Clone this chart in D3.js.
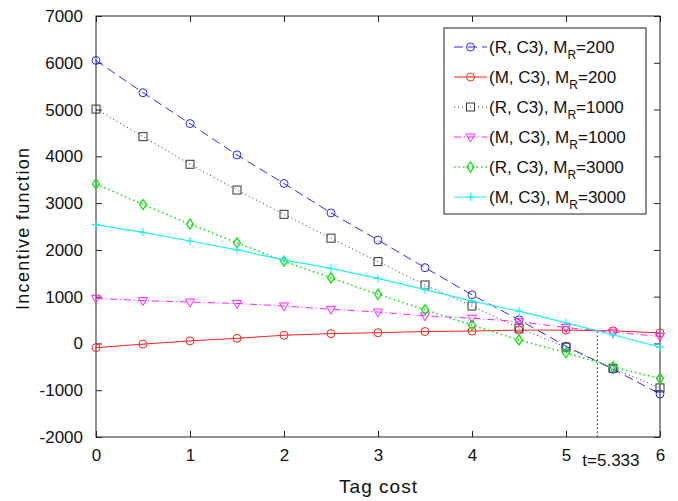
<!DOCTYPE html>
<html>
<head>
<meta charset="utf-8">
<script src="https://cdn.jsdelivr.net/npm/d3@7"></script>
<style>
  html, body { margin: 0; padding: 0; background: #fff; }
  svg { display: block; font-family: "Liberation Sans", Arial, Helvetica, sans-serif; }
</style>
</head>
<body>
<svg id="chart" width="678" height="501"></svg>
<script>
// Tag cost values (x) shared by every curve
const tagCost = [0, 0.5, 1, 1.5, 2, 2.5, 3, 3.5, 4, 4.5, 5, 5.5, 6];

// Incentive function values per scenario
const rC3_200  = [6050, 5360, 4700, 4030, 3420, 2790, 2210, 1620, 1040, 505, -60, -550, -1080];
const mC3_200  = [-90, -15, 55, 110, 175, 210, 230, 255, 265, 285, 285, 270, 225];
const rC3_1000 = [5010, 4420, 3830, 3280, 2760, 2250, 1750, 1250, 800, 330, -80, -530, -950];
const mC3_1000 = [965, 915, 885, 855, 800, 730, 672, 590, 540, 465, 340, 240, 150];
const rC3_3000 = [3410, 2970, 2550, 2150, 1760, 1400, 1050, 720, 390, 75, -200, -500, -750];
const mC3_3000 = [2540, 2375, 2190, 2000, 1785, 1605, 1390, 1150, 905, 690, 440, 185, -80];

const seriesNames = [
  ["(R, C3), M", "R", "=200"],
  ["(M, C3), M", "R", "=200"],
  ["(R, C3), M", "R", "=1000"],
  ["(M, C3), M", "R", "=1000"],
  ["(R, C3), M", "R", "=3000"],
  ["(M, C3), M", "R", "=3000"]
];

const xTicks = [0, 1, 2, 3, 4, 5, 6];
const yTicks = [-2000, -1000, 0, 1000, 2000, 3000, 4000, 5000, 6000, 7000];
const crossT = 5.333;
const crossValue = 275;
const crossLabel = "t=5.333";

const styles = [
  { color: "#2a2aff", dash: "9,5",     marker: "circle",   width: 1 },
  { color: "#ff2020", dash: null,      marker: "circle",   width: 1 },
  { color: "#333333", dash: "1,3",     marker: "square",   width: 1 },
  { color: "#ff20ff", dash: "7,3,1,3", marker: "triangle", width: 1 },
  { color: "#10e010", dash: "1.5,3",   marker: "diamond",  width: 1.6 },
  { color: "#20f0f0", dash: null,      marker: "plus",     width: 1.2 }
];

const allSeries = [rC3_200, mC3_200, rC3_1000, mC3_1000, rC3_3000, mC3_3000];

const svg = d3.select("#chart");
const margin = { left: 96, right: 18, top: 16, bottom: 64 };
const W = 678, H = 501;
const x = d3.scaleLinear().domain([0, 6]).range([margin.left, W - margin.right]);
const y = d3.scaleLinear().domain([-2000, 7000]).range([H - margin.bottom, margin.top]);

const fontSize = 17;
const plainNum = d => String(d);

// Plot background
svg.append("rect")
  .attr("x", x(0)).attr("y", y(7000))
  .attr("width", x(6) - x(0)).attr("height", y(-2000) - y(7000))
  .attr("fill", "#fff");

// Axes with inward ticks on all four sides
const tickLen = 6;
const axisColor = "#222";
function styleAxis(g) {
  g.attr("font-family", null).attr("font-size", null);
  g.select(".domain").remove();
  g.selectAll("line").attr("stroke", axisColor);
  g.selectAll("text").attr("font-size", fontSize).attr("fill", "#111");
}
svg.append("g").attr("transform", `translate(0,${y(-2000)})`)
  .call(d3.axisBottom(x).tickValues(xTicks).tickSize(-tickLen).tickPadding(12).tickFormat(plainNum))
  .call(styleAxis);
svg.append("g").attr("transform", `translate(0,${y(7000)})`)
  .call(d3.axisTop(x).tickValues(xTicks).tickSize(-tickLen).tickFormat(""))
  .call(styleAxis);
svg.append("g").attr("transform", `translate(${x(0)},0)`)
  .call(d3.axisLeft(y).tickValues(yTicks).tickSize(-tickLen).tickPadding(13).tickFormat(plainNum))
  .call(styleAxis);
svg.append("g").attr("transform", `translate(${x(6)},0)`)
  .call(d3.axisRight(y).tickValues(yTicks).tickSize(-tickLen).tickFormat(""))
  .call(styleAxis);

// Box frame
svg.append("rect")
  .attr("x", x(0)).attr("y", y(7000))
  .attr("width", x(6) - x(0)).attr("height", y(-2000) - y(7000))
  .attr("fill", "none").attr("stroke", axisColor).attr("stroke-width", 1);

// Marker drawing
function drawMarker(g, type, cx, cy, color) {
  const s = 4;
  if (type === "circle") {
    g.append("circle").attr("cx", cx).attr("cy", cy).attr("r", s)
      .attr("fill", "none").attr("stroke", color).attr("stroke-width", 1);
  } else if (type === "square") {
    g.append("rect").attr("x", cx - s).attr("y", cy - s).attr("width", 2 * s).attr("height", 2 * s)
      .attr("fill", "none").attr("stroke", color).attr("stroke-width", 1);
  } else if (type === "triangle") {
    g.append("path").attr("d", `M${cx - s - 0.5},${cy - s + 1}L${cx + s + 0.5},${cy - s + 1}L${cx},${cy + s + 1}Z`)
      .attr("fill", "none").attr("stroke", color).attr("stroke-width", 1);
  } else if (type === "diamond") {
    g.append("path").attr("d", `M${cx},${cy - s - 1}L${cx + s - 0.5},${cy}L${cx},${cy + s + 1}L${cx - s + 0.5},${cy}Z`)
      .attr("fill", "none").attr("stroke", color).attr("stroke-width", 1.3);
  } else if (type === "plus") {
    g.append("path").attr("d", `M${cx - s},${cy}L${cx + s},${cy}M${cx},${cy - s}L${cx},${cy + s}`)
      .attr("fill", "none").attr("stroke", color).attr("stroke-width", 1.2);
  }
}

// Curves
const line = d3.line().x((d, i) => x(tagCost[i])).y(d => y(d));
allSeries.forEach((vals, k) => {
  const st = styles[k];
  const g = svg.append("g");
  g.append("path").datum(vals).attr("d", line)
    .attr("fill", "none").attr("stroke", st.color).attr("stroke-width", st.width)
    .attr("stroke-dasharray", st.dash);
  vals.forEach((v, i) => drawMarker(g, st.marker, x(tagCost[i]), y(v), st.color));
});

// Crossing point marker line
svg.append("line")
  .attr("x1", x(crossT)).attr("x2", x(crossT))
  .attr("y1", y(-2000)).attr("y2", y(crossValue))
  .attr("stroke", "#222").attr("stroke-width", 1).attr("stroke-dasharray", "1.5,2.5");
svg.append("text")
  .attr("x", x(crossT) - 15).attr("y", y(-2000) + 29)
  .attr("font-size", fontSize).attr("fill", "#111")
  .text(crossLabel);

// Axis titles
svg.append("text")
  .attr("x", x(3)).attr("y", 493)
  .attr("text-anchor", "middle").attr("font-size", 19).attr("fill", "#111")
  .attr("textLength", 78).attr("lengthAdjust", "spacing")
  .text("Tag cost");
svg.append("text")
  .attr("transform", `translate(29,229) rotate(-90)`)
  .attr("text-anchor", "middle").attr("font-size", 18).attr("fill", "#111")
  .attr("textLength", 162).attr("lengthAdjust", "spacing")
  .text("Incentive function");

// Legend
const lg = svg.append("g");
lg.append("rect").attr("x", 444).attr("y", 28).attr("width", 202).attr("height", 186)
  .attr("fill", "#fff").attr("stroke", axisColor).attr("stroke-width", 1);
seriesNames.forEach((nm, k) => {
  const st = styles[k];
  const ry = 47 + k * 30;
  lg.append("line").attr("x1", 454).attr("x2", 487).attr("y1", ry).attr("y2", ry)
    .attr("stroke", st.color).attr("stroke-width", st.width).attr("stroke-dasharray", st.dash);
  drawMarker(lg, st.marker, 470.5, ry, st.color);
  const t = lg.append("text").attr("x", 489).attr("y", ry + 6)
    .attr("font-size", fontSize).attr("fill", "#111");
  t.append("tspan").text(nm[0]);
  t.append("tspan").attr("font-size", 12).attr("dy", 6).text(nm[1]);
  t.append("tspan").attr("dy", -6).text(nm[2]);
});
</script>
</body>
</html>
